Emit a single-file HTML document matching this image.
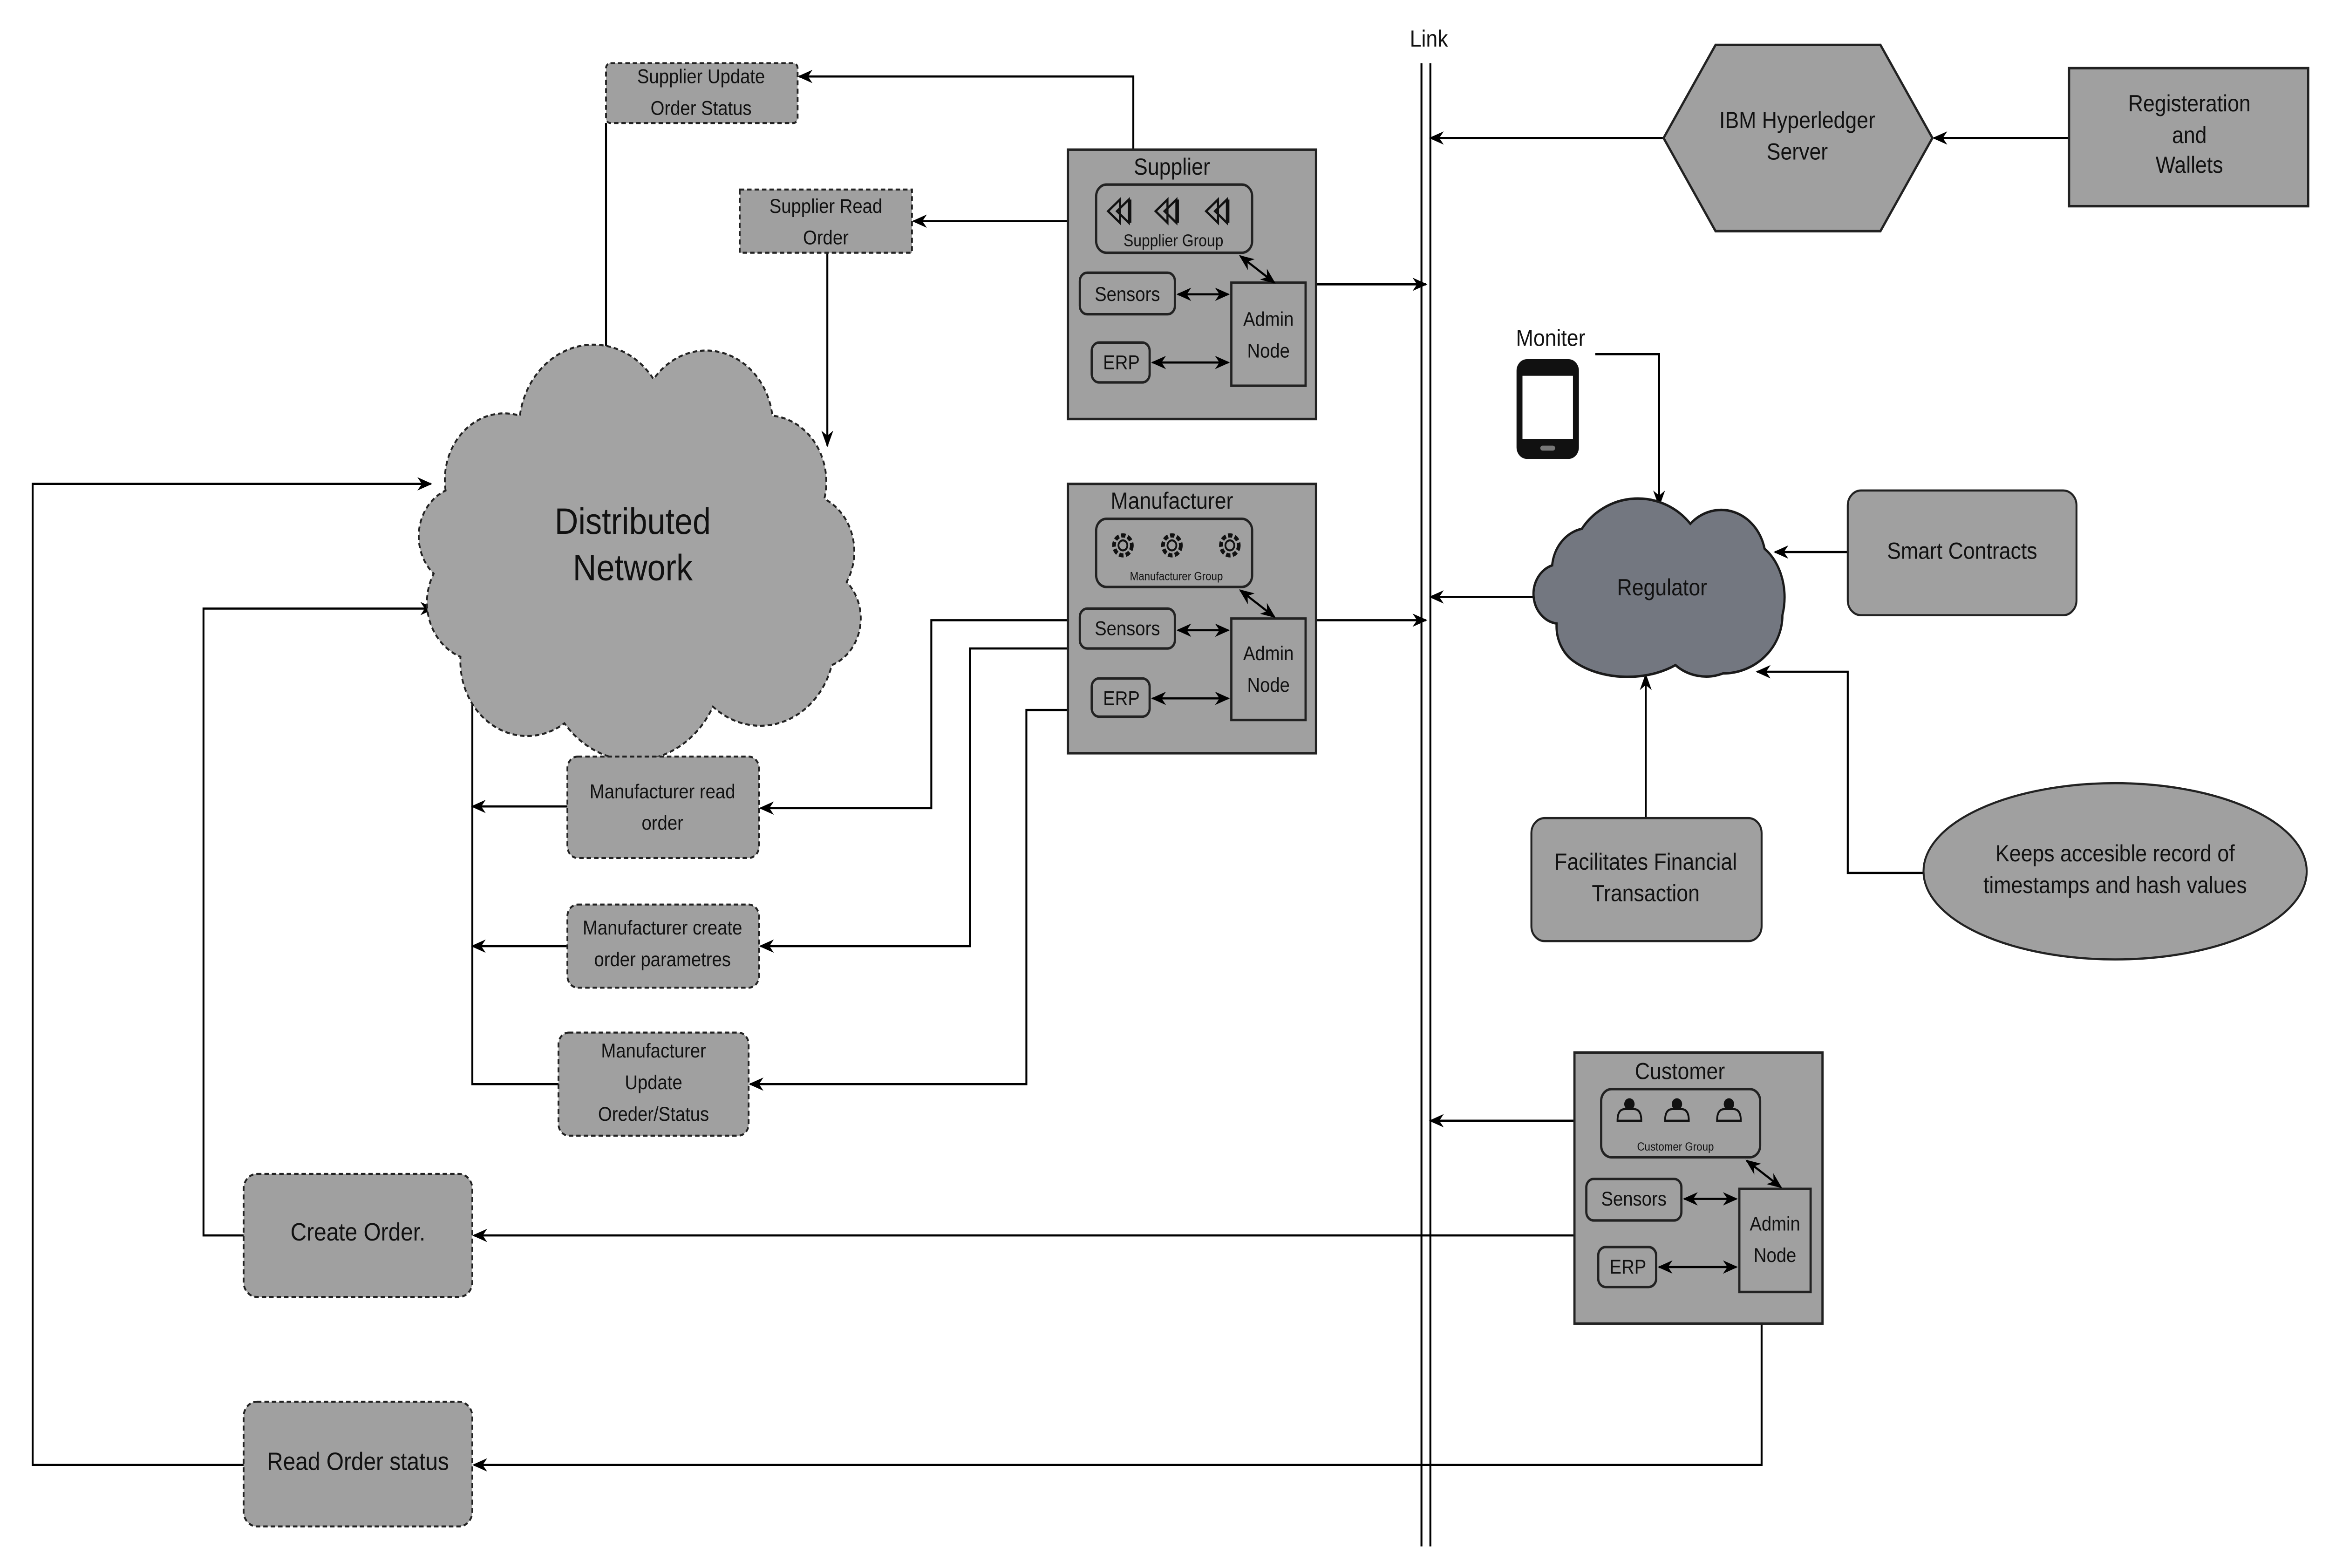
<!DOCTYPE html>
<html><head><meta charset="utf-8"><style>html,body{margin:0;padding:0;background:#fff;overflow:hidden}svg{position:fixed;left:0;top:0;width:100vw;height:100vh;display:block}text{font-family:"Liberation Sans",sans-serif;fill:#111}</style></head>
<body>
<svg viewBox="0 0 1568 943" preserveAspectRatio="none" xmlns="http://www.w3.org/2000/svg">
<defs>
<marker id="a" markerWidth="10" markerHeight="10" refX="9" refY="5" orient="auto" markerUnits="userSpaceOnUse"><path d="M0,1 L10,5 L0,9 L3,5 Z" fill="#000"/></marker>
<marker id="s" markerWidth="10" markerHeight="10" refX="1" refY="5" orient="auto" markerUnits="userSpaceOnUse"><path d="M10,1 L0,5 L10,9 L7,5 Z" fill="#000"/></marker>
<g id="gear"><circle r="6" fill="none" stroke="#111" stroke-width="2.5" stroke-dasharray="3 1.5"/><circle r="3" fill="none" stroke="#111" stroke-width="1.2"/></g>
<g id="per"><circle cx="0" cy="-5" r="3.5" fill="#111"/><path d="M-8,5 Q-8,-2 -3,-2 L3,-2 Q8,-2 8,5 Z" fill="none" stroke="#111" stroke-width="1.2"/></g>
<g id="chev"><path d="M-8,0 L0,-7 L0,7 Z M-2,0 L6,-7 L6,7 Z M7,-7 L7,7" fill="none" stroke="#111" stroke-width="1.4"/></g>
</defs>
<g stroke="#000" stroke-width="1.3" fill="none">
<line x1="957" y1="38" x2="957" y2="930"/><line x1="963" y1="38" x2="963" y2="930"/>
<line x1="1393" y1="83" x2="1302" y2="83" marker-end="url(#a)"/>
<line x1="1120" y1="83" x2="963" y2="83" marker-end="url(#a)"/>
<polyline points="1074,213 1117,213 1117,304" marker-end="url(#a)"/>
<line x1="1244" y1="332" x2="1195" y2="332" marker-end="url(#a)"/>
<line x1="1108" y1="492" x2="1108" y2="406" marker-end="url(#a)"/>
<polyline points="1297,525 1244,525 1244,404 1183,404" marker-end="url(#a)"/>
<line x1="1032" y1="359" x2="963" y2="359" marker-end="url(#a)"/>
<line x1="886" y1="171" x2="960" y2="171" marker-end="url(#a)"/>
<line x1="886" y1="373" x2="960" y2="373" marker-end="url(#a)"/>
<line x1="1060" y1="674" x2="963" y2="674" marker-end="url(#a)"/>
<polyline points="763,90 763,46 538,46" marker-end="url(#a)"/>
<line x1="719" y1="133" x2="615" y2="133" marker-end="url(#a)"/>
<line x1="408" y1="74" x2="408" y2="224" marker-end="url(#a)"/>
<line x1="557" y1="152" x2="557" y2="268" marker-end="url(#a)"/>
<polyline points="719,373 627,373 627,486 512,486" marker-end="url(#a)"/>
<polyline points="719,390 653,390 653,569 512,569" marker-end="url(#a)"/>
<polyline points="719,427 691,427 691,652 505,652" marker-end="url(#a)"/>
<line x1="382" y1="485" x2="318" y2="485" marker-end="url(#a)"/>
<line x1="382" y1="569" x2="318" y2="569" marker-end="url(#a)"/>
<polyline points="376,652 318,652 318,405" marker-end="url(#a)"/>
<line x1="1060" y1="743" x2="319" y2="743" marker-end="url(#a)"/>
<polyline points="164,743 137,743 137,366 292,366" marker-end="url(#a)"/>
<polyline points="1186,796 1186,881 319,881" marker-end="url(#a)"/>
<polyline points="164,881 22,881 22,291 290,291" marker-end="url(#a)"/>
</g>
<text x="962" y="28" font-size="14" text-anchor="middle">Link</text>

<path d="M300,295 A40,40 0 0 1 350,250 A50,50 0 0 1 440,228 A45,45 0 0 1 520,250 A40,40 0 0 1 555,300 A35,35 0 0 1 570,350 A30,30 0 0 1 560,400 A50,50 0 0 1 480,425 A60,60 0 0 1 380,435 A45,45 0 0 1 310,395 A35,35 0 0 1 292,345 A30,30 0 0 1 300,295 Z" fill="#a3a3a3" stroke="#222" stroke-width="1.2" stroke-dasharray="3 2"/>
<text x="426" y="321" font-size="22" text-anchor="middle">Distributed</text>
<text x="426" y="349" font-size="22" text-anchor="middle">Network</text>

<g fill="#a0a0a0" stroke="#222" stroke-width="1.2" stroke-dasharray="3 2">
<rect x="408" y="38" width="129" height="36" rx="3"/>
<rect x="498" y="114" width="116" height="38"/>
<rect x="382" y="455" width="129" height="61" rx="7"/>
<rect x="382" y="544" width="129" height="50" rx="7"/>
<rect x="376" y="621" width="128" height="62" rx="7"/>
<rect x="164" y="706" width="154" height="74" rx="9"/>
<rect x="164" y="843" width="154" height="75" rx="9"/>
</g>
<g font-size="12" text-anchor="middle">
<text x="472" y="50">Supplier Update</text><text x="472" y="69">Order Status</text>
<text x="556" y="128">Supplier Read</text><text x="556" y="147">Order</text>
<text x="446" y="480">Manufacturer read</text><text x="446" y="499">order</text>
<text x="446" y="562">Manufacturer create</text><text x="446" y="581">order parametres</text>
<text x="440" y="636">Manufacturer</text><text x="440" y="655">Update</text><text x="440" y="674">Oreder/Status</text>
</g>
<text x="241" y="746" font-size="15" text-anchor="middle">Create Order.</text>
<text x="241" y="884" font-size="15" text-anchor="middle">Read Order status</text>

<g fill="#a0a0a0" stroke="#222" stroke-width="1.5">
<rect x="719" y="90" width="167" height="162"/>
<rect x="719" y="291" width="167" height="162"/>
<rect x="1060" y="633" width="167" height="163"/>
<rect x="738" y="111" width="105" height="41" rx="7"/><rect x="727" y="164" width="64" height="25" rx="5"/><rect x="735" y="206" width="39" height="24" rx="5"/><rect x="829" y="170" width="50" height="62"/>
<rect x="738" y="312" width="105" height="41" rx="7"/><rect x="727" y="366" width="64" height="24" rx="5"/><rect x="735" y="408" width="39" height="23" rx="5"/><rect x="829" y="372" width="50" height="61"/>
<rect x="1078" y="655" width="107" height="41" rx="7"/><rect x="1068" y="709" width="64" height="25" rx="5"/><rect x="1076" y="750" width="39" height="24" rx="5"/><rect x="1171" y="715" width="48" height="62"/>
</g>
<g stroke="#000" stroke-width="1.3">
<line x1="793" y1="177" x2="827" y2="177" marker-start="url(#s)" marker-end="url(#a)"/>
<line x1="776" y1="218" x2="827" y2="218" marker-start="url(#s)" marker-end="url(#a)"/>
<line x1="835" y1="154" x2="858" y2="170" marker-start="url(#s)" marker-end="url(#a)"/>
<line x1="793" y1="379" x2="827" y2="379" marker-start="url(#s)" marker-end="url(#a)"/>
<line x1="776" y1="420" x2="827" y2="420" marker-start="url(#s)" marker-end="url(#a)"/>
<line x1="835" y1="355" x2="858" y2="371" marker-start="url(#s)" marker-end="url(#a)"/>
<line x1="1134" y1="721" x2="1169" y2="721" marker-start="url(#s)" marker-end="url(#a)"/>
<line x1="1117" y1="762" x2="1169" y2="762" marker-start="url(#s)" marker-end="url(#a)"/>
<line x1="1176" y1="698" x2="1199" y2="714" marker-start="url(#s)" marker-end="url(#a)"/>
</g>
<use href="#chev" x="754" y="127"/><use href="#chev" x="786" y="127"/><use href="#chev" x="820" y="127"/>
<use href="#gear" x="756" y="328"/><use href="#gear" x="789" y="328"/><use href="#gear" x="828" y="328"/>
<use href="#per" x="1097" y="669"/><use href="#per" x="1129" y="669"/><use href="#per" x="1164" y="669"/>
<g text-anchor="middle">
<text x="789" y="105" font-size="14">Supplier</text>
<text x="790" y="148" font-size="10">Supplier Group</text>
<text x="759" y="181" font-size="12">Sensors</text><text x="755" y="222" font-size="12">ERP</text>
<text x="854" y="196" font-size="12">Admin</text><text x="854" y="215" font-size="12">Node</text>
<text x="789" y="306" font-size="14">Manufacturer</text>
<text x="792" y="349" font-size="7">Manufacturer Group</text>
<text x="759" y="382" font-size="12">Sensors</text><text x="755" y="424" font-size="12">ERP</text>
<text x="854" y="397" font-size="12">Admin</text><text x="854" y="416" font-size="12">Node</text>
<text x="1131" y="649" font-size="14">Customer</text>
<text x="1128" y="692" font-size="7">Customer Group</text>
<text x="1100" y="725" font-size="12">Sensors</text><text x="1096" y="766" font-size="12">ERP</text>
<text x="1195" y="740" font-size="12">Admin</text><text x="1195" y="759" font-size="12">Node</text>
</g>

<polygon points="1120,83 1155,27 1266,27 1301,83 1266,139 1155,139" fill="#a0a0a0" stroke="#222" stroke-width="1.5"/>
<text x="1210" y="77" font-size="14" text-anchor="middle">IBM Hyperledger</text>
<text x="1210" y="96" font-size="14" text-anchor="middle">Server</text>
<rect x="1393" y="41" width="161" height="83" fill="#a0a0a0" stroke="#222" stroke-width="1.5"/>
<g font-size="14" text-anchor="middle"><text x="1474" y="67">Registeration</text><text x="1474" y="86">and</text><text x="1474" y="104">Wallets</text></g>
<text x="1044" y="208" font-size="14" text-anchor="middle">Moniter</text>
<rect x="1021" y="216" width="42" height="60" rx="7" fill="#111"/>
<rect x="1025" y="226" width="34" height="38" fill="#fff"/>
<rect x="1037" y="268" width="10" height="3" rx="1.5" fill="#777"/>
<path d="M1045,340 A25,25 0 0 1 1065,318 A45,40 0 0 1 1138,315 A30,30 0 0 1 1188,330 A30,35 0 0 1 1200,370 A40,35 0 0 1 1160,405 A30,25 0 0 1 1128,400 A50,30 0 0 1 1060,398 A25,25 0 0 1 1048,375 A18,18 0 0 1 1045,340 Z" fill="#737780" stroke="#1a1a1a" stroke-width="1.5"/>
<text x="1119" y="358" font-size="14" text-anchor="middle">Regulator</text>
<rect x="1244" y="295" width="154" height="75" rx="9" fill="#a0a0a0" stroke="#222" stroke-width="1.3"/>
<text x="1321" y="336" font-size="14" text-anchor="middle">Smart Contracts</text>
<rect x="1031" y="492" width="155" height="74" rx="9" fill="#a0a0a0" stroke="#222" stroke-width="1.3"/>
<text x="1108" y="523" font-size="14" text-anchor="middle">Facilitates Financial</text>
<text x="1108" y="542" font-size="14" text-anchor="middle">Transaction</text>
<ellipse cx="1424" cy="524" rx="129" ry="53" fill="#a0a0a0" stroke="#222" stroke-width="1.3"/>
<text x="1424" y="518" font-size="14" text-anchor="middle">Keeps accesible record of</text>
<text x="1424" y="537" font-size="14" text-anchor="middle">timestamps and hash values</text>
</svg>
</body></html>
